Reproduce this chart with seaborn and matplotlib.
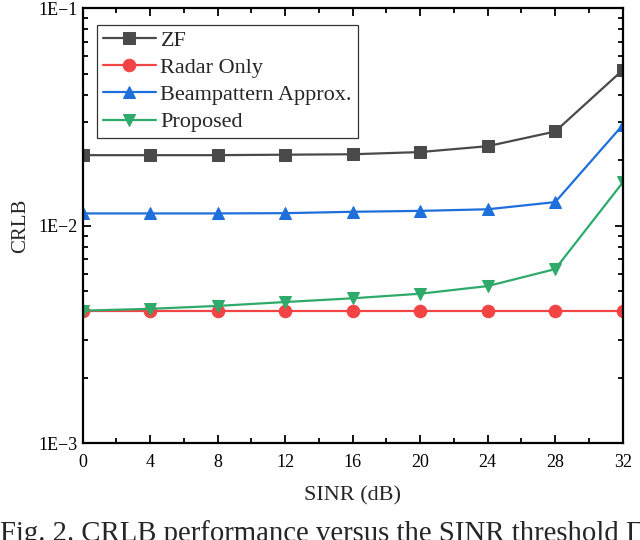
import numpy as np
import pandas as pd
import matplotlib
matplotlib.use("Agg")
import matplotlib.pyplot as plt
import matplotlib.ticker as mticker
import seaborn as sns

sinr = [0, 4, 8, 12, 16, 20, 24, 28, 32]
zf = [0.0211, 0.0211, 0.0211, 0.0212, 0.0213, 0.0218, 0.0232, 0.0271, 0.0519]
radar_only = [0.00405, 0.00405, 0.00405, 0.00405, 0.00405, 0.00405, 0.00405, 0.00405, 0.00405]
beam_approx = [0.01139, 0.01139, 0.01139, 0.01142, 0.01159, 0.0117, 0.0119, 0.01284, 0.0290]
proposed = [0.00407, 0.00415, 0.00428, 0.00446, 0.00464, 0.00487, 0.00528, 0.00632, 0.0158]

series_names = ["ZF", "Radar Only", "Beampattern Approx.", "Proposed"]
series_values = [zf, radar_only, beam_approx, proposed]
colors = ["#4a4a4a", "#f24444", "#1e6fdc", "#2eaa6a"]
markers = ["s", "o", "^", "v"]

xtick_labels = ["0", "4", "8", "12", "16", "20", "24", "28", "32"]
ytick_labels = ["1E\u22123", "1E\u22122", "1E\u22121"]
caption = "Fig. 2. CRLB performance versus the SINR threshold \u0393"

sns.set_style("ticks")
plt.rcParams["font.family"] = ["Liberation Serif", "DejaVu Serif"]
plt.rcParams["mathtext.fontset"] = "stix"

df = pd.DataFrame({
    "SINR": np.tile(sinr, len(series_names)),
    "CRLB": np.concatenate(series_values),
    "Scheme": np.repeat(series_names, len(sinr)),
})

fig = plt.figure(figsize=(6.4, 5.4), dpi=100)
ax = fig.add_axes([0.129, 0.179, 0.844, 0.806])

for name, c, m in zip(series_names, colors, markers):
    sub = df[df["Scheme"] == name]
    sns.lineplot(data=sub, x="SINR", y="CRLB", ax=ax, color=c, marker=m,
                 markersize=9, markeredgecolor=c, linewidth=1.6, label=name,
                 clip_on=True)

ax.set_yscale("log")
ax.set_xlim(0, 32)
ax.set_ylim(1e-3, 1e-1)
ax.set_xticks(sinr)
ax.set_xticklabels(xtick_labels)
ax.xaxis.set_minor_locator(mticker.MultipleLocator(2))
ax.set_yticks([1e-3, 1e-2, 1e-1])
ax.set_yticklabels(ytick_labels)
ax.yaxis.set_minor_locator(mticker.LogLocator(base=10, subs=np.arange(2, 10)))
ax.yaxis.set_minor_formatter(mticker.NullFormatter())

ax.tick_params(which="both", direction="in", top=True, right=True, labelsize=13,
               width=1.3, colors="black")
ax.tick_params(which="major", length=6)
ax.tick_params(which="minor", length=3.5)
ax.tick_params(axis="x", pad=8)
for s in ax.spines.values():
    s.set_linewidth(1.6)
    s.set_color("black")
    s.set_visible(True)

ax.set_xlabel("SINR (dB)", fontsize=16, labelpad=11)
ax.set_ylabel("CRLB", fontsize=15, labelpad=6)

leg = ax.legend(loc="upper left", bbox_to_anchor=(0.027, 0.962), fontsize=16,
                frameon=True, fancybox=False, edgecolor="black", handlelength=2.4,
                borderpad=0.25, labelspacing=0.3, handletextpad=0.2, borderaxespad=0)
leg.get_frame().set_linewidth(0.9)

fig.text(0.0, (540 - 520) / 540, caption, fontsize=20.7, va="top", ha="left")

fig.savefig("out.png", dpi=100)
